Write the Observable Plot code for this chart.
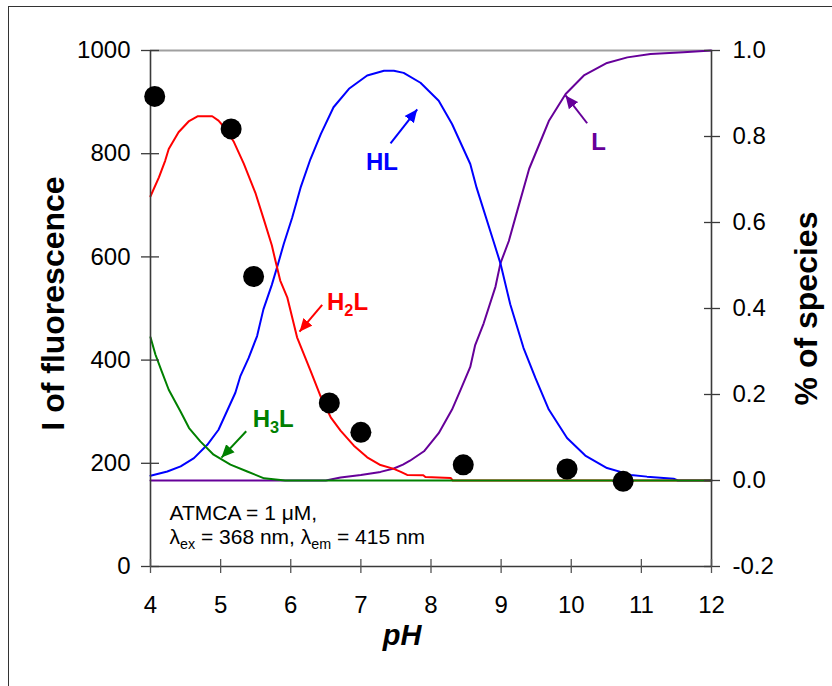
<!DOCTYPE html>
<html>
<head>
<meta charset="utf-8">
<script src="https://cdn.jsdelivr.net/npm/d3@7"></script>
<script src="https://cdn.jsdelivr.net/npm/@observablehq/plot@0.6"></script>
<style>
  html, body { margin: 0; padding: 0; background: #fff; }
  #wrap { position: relative; width: 832px; height: 686px; overflow: hidden; }
  #frame { position: absolute; left: 8px; top: 6px; right: -4px; bottom: -4px;
           border-left: 1px solid #333; border-top: 1px solid #333; pointer-events: none; }
</style>
</head>
<body>
<div id="wrap"><div id="frame"></div></div>
<script>
// ---------- axes ----------
const xTicks = [4, 5, 6, 7, 8, 9, 10, 11, 12];
const leftTicks = [0, 200, 400, 600, 800, 1000];
const rightTicks = [-0.2, 0.0, 0.2, 0.4, 0.6, 0.8, 1.0];

// ---------- measured fluorescence intensity (left axis) ----------
const fluoPH = [4.06, 5.15, 5.47, 6.55, 7.00, 8.46, 9.94, 10.74];
const fluoI  = [911, 848, 562, 317, 260, 197, 189, 165];

// ---------- species distribution (right axis, fraction) ----------
const h3lPH   = [4.00, 4.07, 4.16, 4.26, 4.43, 4.55, 4.71, 4.90, 5.14, 5.38, 5.62, 5.92, 12.0];
const h3lFrac = [0.333, 0.293, 0.254, 0.211, 0.160, 0.122, 0.091, 0.060, 0.037, 0.021, 0.005, 0.0, 0.0];

const h2lPH   = [4.00, 4.12, 4.21, 4.26, 4.40, 4.55, 4.67, 4.88, 4.97, 5.07, 5.19, 5.33, 5.50, 5.62, 5.73, 5.78, 5.85, 5.95, 6.09, 6.28, 6.43, 6.57, 6.71, 6.90, 7.09, 7.28, 7.47, 7.57, 7.66, 7.89, 7.92, 8.28, 8.31, 12.0];
const h2lFrac = [0.661, 0.705, 0.744, 0.771, 0.810, 0.836, 0.847, 0.847, 0.837, 0.818, 0.787, 0.737, 0.667, 0.605, 0.547, 0.512, 0.465, 0.426, 0.333, 0.256, 0.194, 0.147, 0.116, 0.081, 0.054, 0.036, 0.027, 0.020, 0.013, 0.012, 0.008, 0.006, 0.0, 0.0];

const hlPH   = [4.00, 4.24, 4.43, 4.62, 4.81, 4.97, 5.09, 5.21, 5.28, 5.40, 5.52, 5.61, 5.73, 5.83, 5.90, 6.02, 6.14, 6.28, 6.43, 6.61, 6.83, 7.09, 7.33, 7.47, 7.61, 7.85, 8.11, 8.30, 8.56, 8.65, 8.89, 8.99, 9.13, 9.32, 9.49, 9.68, 9.94, 10.20, 10.51, 10.85, 11.08, 11.46, 11.52, 12.0];
const hlFrac = [0.011, 0.021, 0.033, 0.052, 0.083, 0.118, 0.161, 0.204, 0.242, 0.285, 0.336, 0.398, 0.455, 0.510, 0.550, 0.611, 0.681, 0.747, 0.806, 0.868, 0.911, 0.942, 0.953, 0.953, 0.948, 0.925, 0.883, 0.829, 0.736, 0.681, 0.557, 0.505, 0.410, 0.308, 0.238, 0.165, 0.099, 0.058, 0.029, 0.013, 0.009, 0.004, 0.0, 0.0];

const lPH   = [4.00, 6.50, 6.71, 7.00, 7.28, 7.47, 7.60, 7.70, 7.90, 8.11, 8.30, 8.42, 8.56, 8.63, 8.75, 8.92, 8.99, 9.11, 9.23, 9.40, 9.59, 9.68, 9.92, 10.18, 10.51, 10.80, 11.13, 11.60, 12.0];
const lFrac = [0.0, 0.0, 0.007, 0.013, 0.020, 0.028, 0.037, 0.046, 0.068, 0.110, 0.165, 0.210, 0.264, 0.315, 0.365, 0.451, 0.505, 0.557, 0.627, 0.725, 0.800, 0.836, 0.899, 0.942, 0.971, 0.984, 0.992, 0.996, 1.0];

// ---------- species labels and arrows ----------
const labelText = ["H_{3}L", "H_{2}L", "HL", "L"];
const labelPH   = [5.75, 6.81, 7.30, 10.39];
const labelI    = [286, 512, 783, 822];

const arrowFromPH = [5.365, 6.448, 7.423, 10.227];
const arrowFromI  = [262, 507, 820, 859];
const arrowToPH   = [5.012, 6.125, 7.804, 9.918];
const arrowToI    = [211, 455, 886, 913];

const noteLines = ["ATMCA = 1 μM,", "λ_{ex} = 368 nm, λ_{em} = 415 nm"];

// ---------- styling ----------
const speciesColor = ["#008000", "#ff0000", "#0000ff", "#660099"];
const FONT = "'Liberation Sans', Arial, Helvetica, sans-serif";

// fraction (right axis) expressed in left-axis units
const toLeft = v => (v + 0.2) / 1.2 * 1000;
const toRight = d => d / 1000 * 1.2 - 0.2;

const zipSeries = (ph, fr) => ph.map((p, i) => ({pH: p, f: fr[i]}));
const series = [
  zipSeries(h3lPH, h3lFrac),
  zipSeries(h2lPH, h2lFrac),
  zipSeries(hlPH, hlFrac),
  zipSeries(lPH, lFrac)
];
const fluo = fluoPH.map((p, i) => ({pH: p, I: fluoI[i]}));
const labels = labelText.map((t, i) => ({t, pH: labelPH[i], I: labelI[i], c: speciesColor[i]}));
const arrows = arrowFromPH.map((p, i) => ({x1: p, y1: arrowFromI[i], x2: arrowToPH[i], y2: arrowToI[i], c: speciesColor[i]}));

const triangle = (color) => {
  const ns = "http://www.w3.org/2000/svg";
  const m = document.createElementNS(ns, "marker");
  m.setAttribute("viewBox", "-10 -5 10 10");
  m.setAttribute("markerWidth", 6.5);
  m.setAttribute("markerHeight", 6.5);
  m.setAttribute("refX", 0);
  m.setAttribute("refY", 0);
  m.setAttribute("orient", "auto");
  const p = document.createElementNS(ns, "path");
  p.setAttribute("d", "M-10,-4.5L0,0L-10,4.5Z");
  p.setAttribute("fill", color);
  p.setAttribute("stroke", "none");
  m.appendChild(p);
  return m;
};

const lineOrder = [3, 2, 1, 0]; // L, HL, H2L, H3L (H3L drawn last, on top)

const chart = Plot.plot({
  width: 832,
  height: 686,
  marginLeft: 150,
  marginRight: 121,
  marginTop: 50,
  marginBottom: 120,
  x: {domain: [4, 12], axis: null},
  y: {domain: [0, 1000], axis: null},
  style: {fontFamily: FONT, fontSize: "24px", color: "#000", background: "transparent"},
  marks: [
    Plot.ruleY([1000], {stroke: "#a0a0a0", strokeWidth: 2}),
    ...lineOrder.map(k => Plot.line(series[k], {x: "pH", y: d => toLeft(d.f), stroke: speciesColor[k], strokeWidth: 2})),
    Plot.ruleX([4], {stroke: "#3a3a3a", strokeWidth: 1.6}),
    Plot.ruleX([12], {stroke: "#3a3a3a", strokeWidth: 1.6}),
    Plot.ruleY([0], {stroke: "#3a3a3a", strokeWidth: 1.6}),
    Plot.dot(fluo, {x: "pH", y: "I", r: 10.5, fill: "#000", stroke: "none"}),
    // ticks (crossing the axis lines)
    Plot.axisY({anchor: "left", ticks: leftTicks, tickSize: 18, dx: 9, fill: "none", stroke: "#3a3a3a", strokeWidth: 1.3}),
    Plot.axisY({anchor: "right", ticks: rightTicks.map(toLeft), tickSize: 16, dx: -8, fill: "none", stroke: "#3a3a3a", strokeWidth: 1.3}),
    Plot.axisX({anchor: "bottom", ticks: xTicks, tickSize: 14, dy: -7, fill: "none", stroke: "#555", strokeWidth: 1.3}),
    // tick labels
    Plot.axisY({anchor: "left", ticks: leftTicks, tickSize: 0, tickPadding: 20, fontSize: 24, label: null, tickFormat: d => String(d)}),
    Plot.axisY({anchor: "right", ticks: rightTicks.map(toLeft), tickSize: 0, tickPadding: 21, fontSize: 24, label: null,
                tickFormat: d => (Math.round(toRight(d) * 10) / 10).toFixed(1)}),
    Plot.axisX({anchor: "bottom", ticks: xTicks, tickSize: 0, tickPadding: 29, fontSize: 24, label: null, tickFormat: d => String(d)}),
    // axis titles
    Plot.text(["I of fluorescence"], {text: d => d, frameAnchor: "left", rotate: -90, dx: -87, dy: -5,
      lineAnchor: "bottom", textAnchor: "middle", fontSize: 32, fontWeight: "bold"}),
    Plot.text(["% of species"], {text: d => d, frameAnchor: "right", rotate: -90, dx: 105, dy: 0,
      lineAnchor: "bottom", textAnchor: "middle", fontSize: 32, fontWeight: "bold"}),
    Plot.text(["pH"], {text: d => d, frameAnchor: "bottom", dx: -29, dy: 78,
      lineAnchor: "bottom", textAnchor: "middle", fontSize: 29, fontWeight: "bold", fontStyle: "italic"}),
    // arrows and species labels
    ...arrows.map(a => Plot.link([a], {x1: "x1", y1: "y1", x2: "x2", y2: "y2", stroke: a.c, strokeWidth: 2, markerEnd: triangle})),
    ...labels.map(l => Plot.text([l], {x: "pH", y: "I", text: "t", fill: l.c, fontSize: 24, fontWeight: "bold",
      textAnchor: "middle", lineAnchor: "middle"})),
    // note
    Plot.text([noteLines[0]], {text: d => d, frameAnchor: "bottom-left", dx: 19, dy: -47, textAnchor: "start", lineAnchor: "bottom", fontSize: 21}),
    Plot.text([noteLines[1]], {text: d => d, frameAnchor: "bottom-left", dx: 19, dy: -23, textAnchor: "start", lineAnchor: "bottom", fontSize: 21})
  ]
});

document.getElementById("wrap").appendChild(chart);

// subscripts: "_{...}" -> smaller, lowered tspan
(function subscripts(svg) {
  const ns = "http://www.w3.org/2000/svg";
  for (const t of svg.querySelectorAll("text")) {
    const s = t.textContent;
    if (!s.includes("_{")) continue;
    const fs = parseFloat(getComputedStyle(t).fontSize) || 16;
    const shift = Math.round(fs * 0.24);
    t.textContent = "";
    let down = false;
    for (const p of s.split(/(_\{[^}]*\})/)) {
      if (!p) continue;
      const ts = document.createElementNS(ns, "tspan");
      if (p.startsWith("_{")) {
        ts.textContent = p.slice(2, -1);
        ts.setAttribute("font-size", (fs * 0.68).toFixed(1));
        ts.setAttribute("dy", shift);
        down = true;
      } else {
        ts.textContent = p;
        if (down) { ts.setAttribute("dy", -shift); down = false; }
      }
      t.appendChild(ts);
    }
  }
})(chart);
</script>
</body>
</html>
